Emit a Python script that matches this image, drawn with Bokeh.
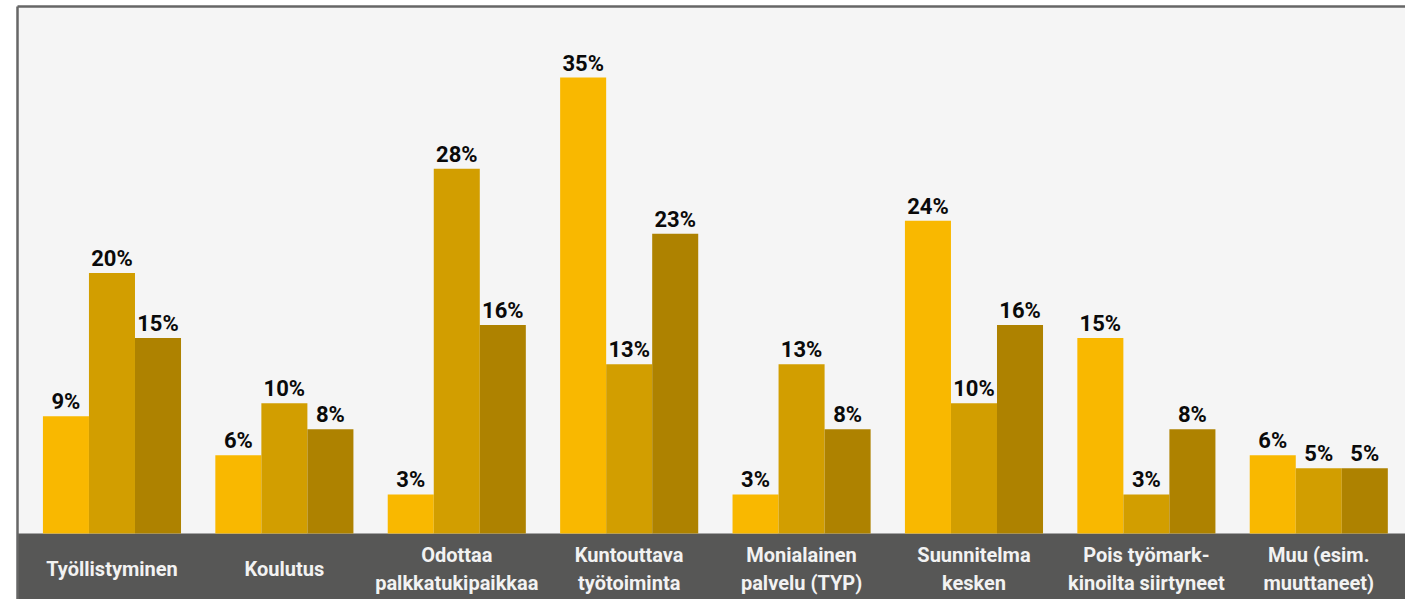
from bokeh.plotting import figure
from bokeh.models import ColumnDataSource, Range1d, LinearAxis, FixedTicker, BoxAnnotation
from bokeh.core.properties import value
from bokeh.transform import dodge
from bokeh.embed import file_html
from bokeh.resources import INLINE

categories = ["Työllistyminen", "Koulutus", "Odottaa\npalkkatukipaikkaa", "Kuntouttava\ntyötoiminta",
              "Monialainen\npalvelu (TYP)", "Suunnitelma\nkesken", "Pois työmark-\nkinoilta siirtyneet",
              "Muu (esim.\nmuuttaneet)"]
series_a = [9, 6, 3, 35, 3, 24, 15, 6]
series_b = [20, 10, 28, 13, 13, 10, 3, 5]
series_c = [15, 8, 16, 23, 8, 16, 8, 5]

colors = ["#F9B800", "#D29E00", "#AE8200"]
FONT = "Roboto"

xpos = [i + 0.5 for i in range(len(categories))]
src = ColumnDataSource(dict(
    x=xpos, cat=categories,
    a=series_a, b=series_b, c=series_c,
    la=[f"{v}%" for v in series_a], lb=[f"{v}%" for v in series_b], lc=[f"{v}%" for v in series_c],
))

p = figure(width=1405, height=599, output_backend="svg", toolbar_location=None,
           x_range=Range1d(-0.048, 8.003), y_range=Range1d(-5.065, 40.45),
           x_axis_location=None, y_axis_location=None,
           min_border_left=17, min_border_right=0, min_border_top=6, min_border_bottom=0)
p.background_fill_color = "#F5F5F5"
p.border_fill_color = "white"
p.outline_line_color = None
p.xgrid.visible = False
p.ygrid.visible = False

band = BoxAnnotation(top=0, fill_color="#575756", fill_alpha=1.0, line_color=None, level="underlay")
p.add_layout(band)

w = 0.267
for key, lab, off, col in [("a", "la", -w, colors[0]), ("b", "lb", 0.0, colors[1]), ("c", "lc", w, colors[2])]:
    p.vbar(x=dodge("x", off), top=key, bottom=0, width=w, source=src, fill_color=col, line_color=None)
    p.text(x=dodge("x", off), y=key, text=lab, source=src, text_align="center", text_baseline="bottom",
           y_offset=-2, text_font=value(FONT), text_font_style="bold", text_font_size="22px",
           text_color="#0A0A0A")

p.text(x="x", y=-2.72, text="cat", source=src, text_align="center", text_baseline="middle",
       text_font=value(FONT), text_font_style="bold", text_font_size="20px", text_color="#F2F2F2",
       text_line_height=1.15)

# border lines (left and top)
for loc in ["left", "above"]:
    ax = LinearAxis(ticker=FixedTicker(ticks=[]), major_tick_out=0, major_tick_in=0,
                    minor_tick_out=0, minor_tick_in=0, major_label_standoff=0,
                    axis_line_color="#666666", axis_line_width=2.5)
    p.add_layout(ax, loc)

open("out.html", "w").write(file_html(p, INLINE))
